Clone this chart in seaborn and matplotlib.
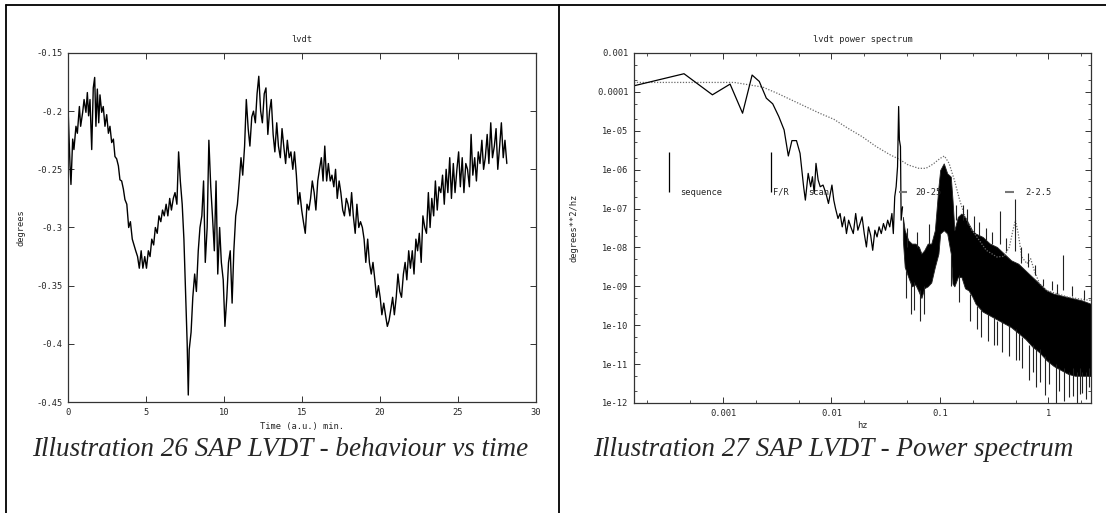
import numpy as np
import matplotlib
matplotlib.use("Agg")
import matplotlib.pyplot as plt
import seaborn as sns
from matplotlib.lines import Line2D
from matplotlib.ticker import FixedLocator, FixedFormatter, LogLocator, NullFormatter

# ---------------- left panel: LVDT vs time ----------------
time_min = [
    0.02, 0.13, 0.19, 0.30, 0.38, 0.51, 0.60, 0.73, 0.81, 0.94,
    1.03, 1.15, 1.24, 1.32, 1.41, 1.52, 1.62, 1.71, 1.79, 1.88,
    1.97, 2.05, 2.16, 2.26, 2.37, 2.48, 2.59, 2.69, 2.80, 2.91,
    3.01, 3.12, 3.23, 3.33, 3.44, 3.55, 3.65,
    3.77, 3.89, 4.00, 4.12, 4.23, 4.34, 4.46, 4.57, 4.69, 4.80,
    4.92, 5.03, 5.15, 5.26, 5.37, 5.49, 5.60, 5.72, 5.83, 5.95,
    6.06, 6.17, 6.29, 6.40, 6.52, 6.63, 6.75, 6.86, 6.98, 7.09,
    7.20, 7.32, 7.43, 7.55, 7.64, 7.71, 7.77, 7.89, 8.00, 8.12,
    8.23, 8.35, 8.46, 8.58, 8.69, 8.80, 8.92, 9.03, 9.15, 9.26,
    9.38, 9.49, 9.60, 9.72, 9.83, 9.95, 10.06, 10.18, 10.29, 10.40,
    10.52, 10.63, 10.75, 10.86, 10.98, 11.09, 11.20, 11.32, 11.43, 11.55,
    11.66, 11.78, 11.89, 12.01, 12.12, 12.23, 12.35, 12.46, 12.58, 12.69,
    12.81, 12.92, 13.03, 13.15, 13.26, 13.38, 13.49, 13.61, 13.72, 13.83,
    13.95, 14.06, 14.18, 14.29, 14.41, 14.52, 14.64, 14.75, 14.86, 14.98,
    15.09, 15.21, 15.32, 15.44, 15.55, 15.66, 15.78, 15.89, 16.01, 16.12,
    16.24, 16.35, 16.46, 16.58, 16.69, 16.81, 16.92, 17.04, 17.15, 17.26,
    17.38, 17.49, 17.61, 17.72, 17.84, 17.95, 18.07, 18.18, 18.29, 18.41,
    18.52, 18.64, 18.75, 18.87, 18.98, 19.09, 19.21, 19.32, 19.44, 19.55,
    19.67, 19.78, 19.90, 20.01, 20.12, 20.24, 20.35, 20.47, 20.58, 20.70,
    20.81, 20.92, 21.04, 21.15, 21.27, 21.38, 21.50, 21.61, 21.72, 21.84,
    21.95, 22.07, 22.18, 22.30, 22.41, 22.52, 22.64, 22.75, 22.87, 22.98,
    23.10, 23.21, 23.32, 23.44, 23.55, 23.67, 23.78, 23.90, 24.01, 24.12,
    24.24, 24.35, 24.47, 24.58, 24.70, 24.81, 24.93, 25.04, 25.15, 25.27,
    25.38, 25.50, 25.61, 25.73, 25.84, 25.95, 26.07, 26.18, 26.30, 26.41,
    26.53, 26.64, 26.75, 26.87, 26.98, 27.10, 27.21, 27.33, 27.44, 27.55,
    27.67, 27.78, 27.90, 28.01, 28.13,
]
degrees = [
    -0.204, -0.247, -0.263, -0.224, -0.233, -0.213, -0.219, -0.196, -0.213, -0.201,
    -0.190, -0.201, -0.184, -0.204, -0.190, -0.233, -0.180, -0.171, -0.213, -0.181,
    -0.210, -0.186, -0.201, -0.196, -0.213, -0.203, -0.219, -0.213, -0.227, -0.224,
    -0.239, -0.241, -0.247, -0.259, -0.260, -0.267, -0.276,
    -0.280, -0.300, -0.295, -0.310, -0.315, -0.320, -0.325, -0.335, -0.320, -0.335,
    -0.325, -0.335, -0.320, -0.325, -0.310, -0.315, -0.300, -0.305, -0.290, -0.295,
    -0.285, -0.290, -0.280, -0.290, -0.275, -0.285, -0.275, -0.270, -0.280, -0.235,
    -0.260, -0.280, -0.310, -0.360, -0.400, -0.444, -0.405, -0.390, -0.360, -0.340,
    -0.355, -0.320, -0.300, -0.290, -0.260, -0.330, -0.300, -0.225, -0.265, -0.290,
    -0.320, -0.260, -0.340, -0.300, -0.330, -0.345, -0.385, -0.360, -0.330, -0.320,
    -0.365, -0.320, -0.290, -0.280, -0.260, -0.240, -0.255, -0.230, -0.190, -0.215,
    -0.230, -0.205, -0.200, -0.210, -0.185, -0.170, -0.200, -0.210, -0.185, -0.180,
    -0.220, -0.200, -0.190, -0.220, -0.235, -0.210, -0.230, -0.240, -0.215, -0.230,
    -0.245, -0.225, -0.240, -0.235, -0.250, -0.235, -0.255, -0.280, -0.270, -0.285,
    -0.295, -0.305, -0.280, -0.285, -0.275, -0.260, -0.270, -0.285, -0.260, -0.250,
    -0.240, -0.260, -0.230, -0.260, -0.245, -0.260, -0.255, -0.265, -0.250, -0.275,
    -0.260, -0.270, -0.285, -0.290, -0.275, -0.280, -0.290, -0.270, -0.290, -0.305,
    -0.280, -0.300, -0.295, -0.300, -0.310, -0.330, -0.310, -0.330, -0.340, -0.330,
    -0.345, -0.360, -0.350, -0.360, -0.375, -0.365, -0.375, -0.385, -0.380, -0.370,
    -0.360, -0.375, -0.360, -0.340, -0.355, -0.360, -0.340, -0.330, -0.345, -0.320,
    -0.335, -0.320, -0.340, -0.310, -0.320, -0.305, -0.330, -0.290, -0.300, -0.305,
    -0.270, -0.300, -0.275, -0.290, -0.260, -0.285, -0.265, -0.270, -0.255, -0.280,
    -0.250, -0.270, -0.240, -0.275, -0.245, -0.270, -0.250, -0.235, -0.265, -0.240,
    -0.270, -0.245, -0.250, -0.265, -0.220, -0.255, -0.240, -0.260, -0.235, -0.245,
    -0.225, -0.250, -0.240, -0.220, -0.245, -0.210, -0.240, -0.230, -0.215, -0.250,
    -0.230, -0.210, -0.240, -0.225, -0.245,
]
left_xticks = [0, 5, 10, 15, 20, 25, 30]
left_yticks = [-0.45, -0.4, -0.35, -0.3, -0.25, -0.2, -0.15]
left_ylabels = ["-0.45", "-0.4", "-0.35", "-0.3", "-0.25", "-0.2", "-0.15"]

# ---------------- right panel: power spectrum (log10 values) ----------------
spec_log_f = [
    -3.821, -3.360, -3.098, -2.935, -2.820, -2.732, -2.666, -2.601, -2.542, -2.486,
    -2.437, -2.398, -2.365, -2.323, -2.290, -2.257, -2.241, -2.215, -2.192, -2.176,
    -2.159, -2.143, -2.123, -2.104, -2.078, -2.051, -2.028, -1.996, -1.979, -1.963,
    -1.940, -1.921, -1.901, -1.881, -1.862, -1.842, -1.822, -1.799, -1.777, -1.757,
    -1.737, -1.718, -1.698, -1.678, -1.659, -1.639, -1.620, -1.600, -1.580, -1.561,
    -1.541, -1.521, -1.502, -1.482, -1.463, -1.443, -1.430, -1.417, -1.404, -1.391,
    -1.381, -1.374, -1.364, -1.358, -1.345,
]
spec_log_p = [
    -3.843, -3.533, -4.075, -3.800, -4.548, -3.567, -3.731, -4.161, -4.307, -4.634,
    -4.978, -5.648, -5.253, -5.253, -5.580, -6.439, -6.783, -6.095, -6.439, -6.181,
    -6.611, -5.838, -6.267, -6.439, -6.396, -6.611, -6.869, -6.396, -6.783, -6.998,
    -7.256, -7.127, -7.471, -7.213, -7.643, -7.299, -7.471, -7.643, -7.127, -7.557,
    -7.385, -7.213, -7.643, -7.987, -7.471, -7.686, -8.073, -7.557, -7.729, -7.471,
    -7.643, -7.385, -7.557, -7.299, -7.471, -7.127, -7.643, -6.697, -6.439, -5.924,
    -4.376, -5.236, -5.408, -7.299, -6.955,
]
# dense noisy part: upper / lower edge of the solid black mass
band_log_f = [
    -1.342, -1.325, -1.292, -1.260, -1.227, -1.194, -1.171, -1.145, -1.113, -1.080,
    -1.047, -1.014, -0.998, -0.965, -0.933, -0.900, -0.884, -0.867, -0.835, -0.802,
    -0.769, -0.736, -0.704, -0.671, -0.606, -0.540, -0.475, -0.409, -0.344, -0.278,
    -0.213, -0.148, -0.082, -0.017, 0.049, 0.114, 0.180, 0.245, 0.310, 0.392,
]
band_hi = [
    -7.213, -7.557, -7.815, -7.901, -7.901, -7.987, -8.159, -8.073, -7.901, -7.901,
    -7.557, -6.439, -6.009, -5.838, -6.095, -6.181, -6.783, -7.557, -7.213, -7.127,
    -7.213, -7.385, -7.557, -7.643, -7.729, -7.901, -7.987, -8.159, -8.331, -8.417,
    -8.589, -8.761, -8.933, -9.105, -9.191, -9.234, -9.277, -9.320, -9.363, -9.449,
]
band_lo = [
    -7.815, -8.503, -8.761, -9.000, -8.950, -9.150, -9.300, -9.050, -9.000, -8.900,
    -8.503, -8.159, -7.643, -7.557, -7.643, -8.159, -8.933, -9.000, -8.761, -8.761,
    -9.050, -9.105, -9.250, -9.450, -9.650, -9.750, -9.850, -9.950, -10.050, -10.200,
    -10.350, -10.550, -10.700, -10.900, -11.050, -11.150, -11.250, -11.300, -11.300, -11.300,
]
# individual hair spikes poking out of the band (log f, from, to)
spike_log_f = [-1.266, -0.448, -0.311, 0.131, -0.076, 0.229, 0.294, 0.376,
               -1.30, -1.21, -1.10, -0.85, -0.79, -0.75, -0.69, -0.64, -0.58, -0.52,
               -0.39, -0.25, -0.19, -0.12, -0.05, 0.03, 0.08, 0.22, 0.33,
               -1.31, -1.24, -1.18, -0.90, -0.82, -0.72, -0.62, -0.56, -0.50, -0.43,
               -0.36, -0.30, -0.24, -0.18, -0.11, -0.03, 0.07, 0.14, 0.26, 0.35,
               -1.15, -0.66, -0.47, -0.27, -0.14, 0.01, 0.10, 0.19, 0.31]
spike_from = [-8.9, -7.9, -8.1, -9.1, -10.6, -11.1, -11.1, -11.1,
              -8.0, -8.0, -7.9, -7.3, -7.3, -7.4, -7.6, -7.7, -7.8, -7.9,
              -8.1, -8.4, -8.5, -8.7, -9.0, -9.1, -9.2, -9.25, -9.35,
              -8.6, -8.9, -9.1, -8.2, -8.7, -9.2, -9.6, -9.7, -9.8, -9.9,
              -10.0, -10.1, -10.3, -10.5, -10.6, -10.8, -11.0, -11.1, -11.2, -11.2,
              -9.0, -9.5, -9.9, -10.2, -10.5, -10.9, -11.1, -11.2, -11.2]
spike_to = [-9.71, -7.06, -6.76, -8.20, -11.47, -11.81, -11.77, -11.60,
            -7.5, -7.6, -7.4, -6.9, -6.9, -7.0, -7.2, -7.35, -7.5, -7.6,
            -7.75, -8.0, -8.15, -8.45, -8.8, -8.85, -8.95, -9.0, -9.1,
            -9.3, -9.6, -9.9, -9.0, -9.4, -9.9, -10.3, -10.4, -10.5, -10.7,
            -10.8, -10.9, -11.1, -11.4, -11.6, -11.8, -12.0, -11.95, -12.0, -11.9,
            -9.7, -10.1, -10.5, -10.9, -11.2, -11.5, -11.7, -11.85, -11.75]
# dotted model curve
model_log_f = [
    -3.821, -2.895, -2.764, -2.634, -2.503, -2.372, -2.241, -2.110, -1.979, -1.849,
    -1.718, -1.587, -1.456, -1.374, -1.292, -1.194, -1.129, -1.063, -0.998, -0.959,
    -0.916, -0.867, -0.818, -0.769, -0.704, -0.638, -0.573, -0.475, -0.409, -0.360,
    -0.327, -0.304, -0.278, -0.246, -0.197, -0.164, -0.131, -0.082, -0.017, 0.081,
    0.180, 0.278, 0.392,
]
model_log_p = [
    -3.757, -3.757, -3.817, -3.877, -4.032, -4.204, -4.376, -4.548, -4.703, -4.935,
    -5.150, -5.408, -5.623, -5.734, -5.880, -5.966, -5.966, -5.855, -5.709, -5.648,
    -5.837, -6.267, -6.783, -7.213, -7.557, -7.815, -8.073, -8.245, -8.228, -7.987,
    -7.557, -7.299, -7.643, -8.245, -8.417, -8.288, -8.589, -8.933, -9.105, -9.191,
    -9.277, -9.320, -9.363,
]
right_xticks = [0.001, 0.01, 0.1, 1]
right_xlabels = ["0.001", "0.01", "0.1", "1"]
right_yticks = [1e-12, 1e-11, 1e-10, 1e-9, 1e-8, 1e-7, 1e-6, 1e-5, 1e-4, 1e-3]
right_ylabels = ["1e-12", "1e-11", "1e-10", "1e-09", "1e-08", "1e-07", "1e-06",
                 "1e-05", "0.0001", "0.001"]
# annotation markers (Hz, power)
mark_bars_f = [3.18e-4, 2.78e-3]
mark_bar_lo, mark_bar_hi = 2.66e-7, 2.86e-6
mark_dash_f0 = [0.0417, 0.40]
mark_dash_f1 = [0.0501, 0.48]
mark_texts = ["sequence", "F/R", "scan", "20-25", "2-2.5"]
mark_text_f = [3.98e-4, 2.9e-3, 6.1e-3, 0.0592, 0.612]
mark_y = 2.66e-7

# ---------------- style ----------------
sns.set_theme(style="ticks")
plt.rcParams['font.family'] = ['DejaVu Sans Mono', 'DejaVu Sans']
plt.rcParams['axes.unicode_minus'] = False
MONO = 6.3
W, H = 1106, 513

fig = plt.figure(figsize=(W / 100, H / 100), dpi=100)
fig.patch.set_facecolor("white")
ax1 = fig.add_axes([68 / W, (H - 402) / H, 468 / W, 349 / H])
ax2 = fig.add_axes([634 / W, (H - 403) / H, 457 / W, 350 / H])

for ax in (ax1, ax2):
    ax.set_facecolor("white")
    for s in ax.spines.values():
        s.set_color("#333333")
        s.set_linewidth(0.9)
    ax.tick_params(which="major", direction="in", length=4, width=0.7, color="#333333",
                   top=True, right=True, labelsize=MONO, pad=4)
    ax.tick_params(which="minor", direction="in", length=2, width=0.6, color="#333333",
                   top=True, right=True)

# left
sns.lineplot(x=time_min, y=degrees, ax=ax1, color="black", linewidth=1.0,
             sort=False, estimator=None)
ax1.set_xlim(0, 30)
ax1.set_ylim(-0.45, -0.15)
ax1.xaxis.set_major_locator(FixedLocator(left_xticks))
ax1.xaxis.set_major_formatter(FixedFormatter([str(v) for v in left_xticks]))
ax1.yaxis.set_major_locator(FixedLocator(left_yticks))
ax1.yaxis.set_major_formatter(FixedFormatter(left_ylabels))
ax1.set_xlabel("")
ax1.set_ylabel("")
ax1.text(0.5, 1 + 14 / 349, "lvdt", transform=ax1.transAxes, ha="center", va="center", fontsize=MONO)
ax1.text(0.5, -24 / 349, "Time (a.u.) min.", transform=ax1.transAxes, ha="center", va="center", fontsize=MONO)
ax1.text(-47 / 468, 0.5, "degrees", transform=ax1.transAxes, ha="center", va="center",
         rotation=90, fontsize=MONO)

# right
ax2.set_xscale("log")
ax2.set_yscale("log")
ax2.set_xlim(1.51e-4, 2.47)
ax2.set_ylim(1e-12, 1e-3)

sns.lineplot(x=10 ** np.array(model_log_f), y=10 ** np.array(model_log_p), ax=ax2,
             color="#6a6a6a", linewidth=0.9, linestyle=(0, (1, 1.3)), sort=False, estimator=None)

bf = 10 ** np.array(band_log_f)
ax2.fill_between(bf, 10 ** np.array(band_lo), 10 ** np.array(band_hi),
                 color="black", linewidth=0.6, edgecolor="#222222")
ax2.vlines(10 ** np.array(spike_log_f), 10 ** np.array(spike_from), 10 ** np.array(spike_to),
           color="#222222", linewidth=0.8)
sns.lineplot(x=10 ** np.array(spec_log_f), y=10 ** np.array(spec_log_p), ax=ax2,
             color="black", linewidth=0.9, sort=False, estimator=None)

ax2.vlines(mark_bars_f, mark_bar_lo, mark_bar_hi, color="black", linewidth=0.9)
ax2.hlines([mark_y, mark_y], mark_dash_f0, mark_dash_f1, color="#777777", linewidth=1.5)
for t, f in zip(mark_texts, mark_text_f):
    ax2.text(f, mark_y, t, ha="left", va="center", fontsize=MONO)

ax2.xaxis.set_major_locator(FixedLocator(right_xticks))
ax2.xaxis.set_major_formatter(FixedFormatter(right_xlabels))
ax2.xaxis.set_minor_locator(LogLocator(base=10, subs=(2.0, 5.0), numticks=20))
ax2.xaxis.set_minor_formatter(NullFormatter())
ax2.yaxis.set_major_locator(FixedLocator(right_yticks))
ax2.yaxis.set_major_formatter(FixedFormatter(right_ylabels))
ax2.yaxis.set_minor_locator(LogLocator(base=10, subs=(2.0, 5.0), numticks=20))
ax2.yaxis.set_minor_formatter(NullFormatter())
ax2.set_xlabel("")
ax2.set_ylabel("")
ax2.text(0.5, 1 + 14 / 350, "lvdt power spectrum", transform=ax2.transAxes, ha="center",
         va="center", fontsize=MONO)
ax2.text(0.5, -23 / 350, "hz", transform=ax2.transAxes, ha="center", va="center", fontsize=MONO)
ax2.text(-60 / 457, 0.5, "degrees**2/hz", transform=ax2.transAxes, ha="center", va="center",
         rotation=90, fontsize=MONO)

# page frame
fig.add_artist(Line2D([6 / W, 1], [1 - 4.5 / H] * 2, color="black", linewidth=1.3,
                      transform=fig.transFigure))
fig.add_artist(Line2D([6 / W] * 2, [0, 1 - 4.5 / H], color="black", linewidth=1.3,
                      transform=fig.transFigure))
fig.add_artist(Line2D([559 / W] * 2, [0, 1 - 4.5 / H], color="black", linewidth=1.3,
                      transform=fig.transFigure))

# captions
cap_kw = dict(ha="center", va="baseline", fontsize=19.5, family="Liberation Serif", style="italic")
fig.text(280 / W, (H - 456) / H, "Illustration 26 SAP LVDT - behaviour vs time", **cap_kw)
fig.text(833 / W, (H - 456) / H, "Illustration 27 SAP LVDT - Power spectrum", **cap_kw)

fig.savefig("out.png", dpi=100, facecolor="white")
